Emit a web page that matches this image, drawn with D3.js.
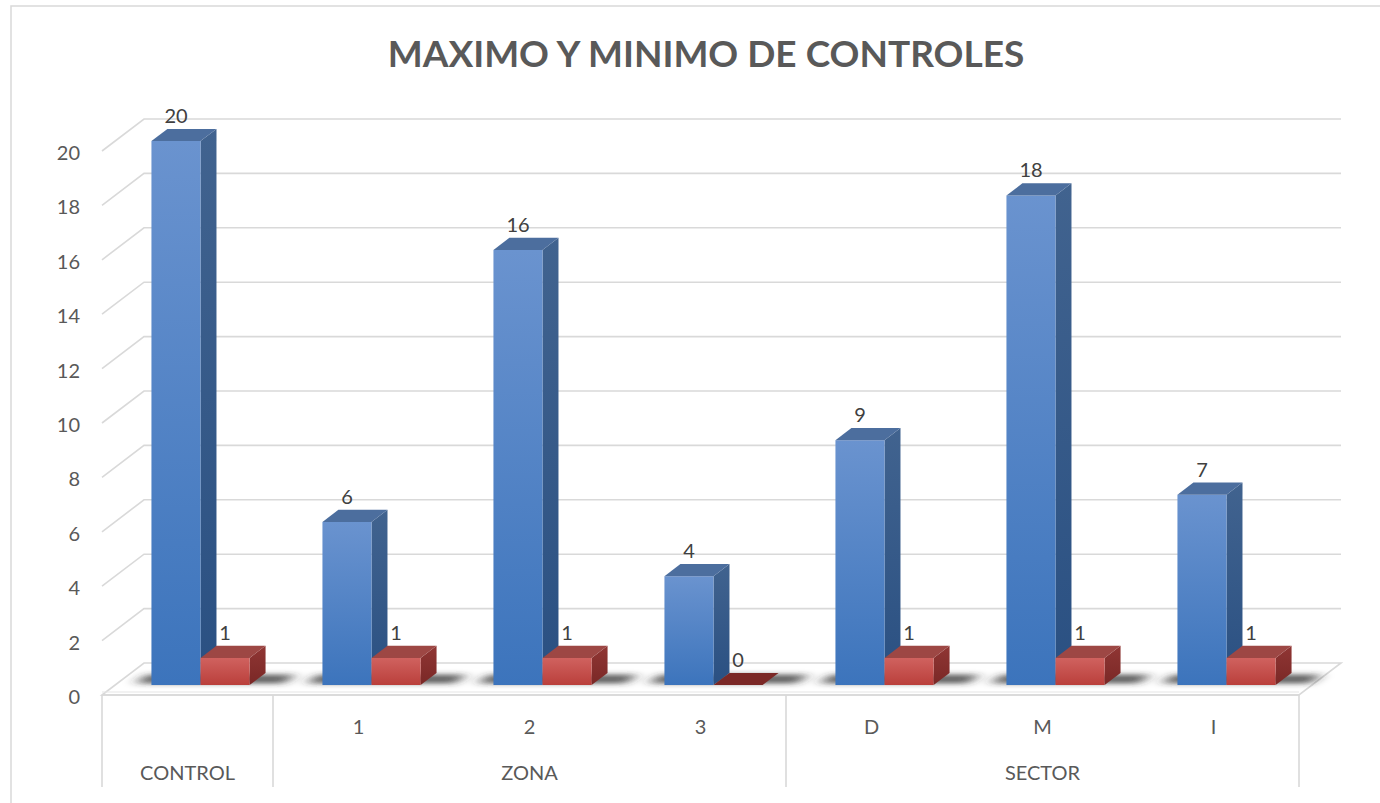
<!DOCTYPE html>
<html>
<head>
<meta charset="utf-8">
<script src="https://cdn.jsdelivr.net/npm/d3@7"></script>
<style>
  html, body { margin: 0; padding: 0; background: #ffffff; }
  svg { display: block; }
  text { font-family: Lato, "Open Sans", "Liberation Sans", sans-serif; }
</style>
</head>
<body>
<svg id="chart" width="1380" height="803"></svg>
<script>
// ---- data ----
const subLabels   = ["", "1", "2", "3", "D", "M", "I"];
const groupLabels = ["CONTROL", "ZONA", "ZONA", "ZONA", "SECTOR", "SECTOR", "SECTOR"];
const maxValues   = [20, 6, 16, 4, 9, 18, 7];
const minValues   = [1, 1, 1, 0, 1, 1, 1];
const yTicks      = [0, 2, 4, 6, 8, 10, 12, 14, 16, 18, 20];
const titleText   = "MAXIMO Y MINIMO DE CONTROLES";

// ---- layout ----
const W = 1380, H = 803;
const svg = d3.select("#chart");

const floorFront = 695;     // y of value 0 at the front edge of the floor
const DX = 42, DY = 32;     // screen offset from front (z=0) to back wall (z=1)
const zFront = 0.31, zBack = 0.69;

const y = d3.scaleLinear().domain([0, 20]).range([floorFront, floorFront - 544]);
const x = d3.scaleBand().domain(d3.range(subLabels.length)).range([102, 1299]).padding(0);
const barW = x.bandwidth() * 0.287;

const P = (px, v, z) => [px + DX * z, y(v) - DY * z];
const poly = pts => pts.map(p => p.join(",")).join(" ");

const defs = svg.append("defs");
function grad(id, c1, c2) {
  const g = defs.append("linearGradient").attr("id", id)
    .attr("x1", 0).attr("y1", 0).attr("x2", 0).attr("y2", 1);
  g.append("stop").attr("offset", "0%").attr("stop-color", c1);
  g.append("stop").attr("offset", "100%").attr("stop-color", c2);
}
grad("blueFront", "#6a93cf", "#3c74bc");
grad("blueSide", "#41638f", "#2a5082");
grad("redFront", "#d0625f", "#ba3f3b");
grad("redSide", "#903634", "#7a2826");
defs.append("filter").attr("id", "shadowBlur")
  .attr("x", "-50%").attr("y", "-200%").attr("width", "200%").attr("height", "500%")
  .append("feGaussianBlur").attr("stdDeviation", "7 2.5");

// chart frame
svg.append("rect").attr("x", 11).attr("y", 6).attr("width", W).attr("height", H)
  .attr("fill", "none").attr("stroke", "#d9d9d9").attr("stroke-width", 1.5);

// title
svg.append("text").attr("x", 706).attr("y", 67).attr("text-anchor", "middle")
  .attr("font-size", 37).attr("font-weight", 700).attr("fill", "#595959")
  .text(titleText);

// ---- walls & gridlines ----
const grid = svg.append("g").attr("stroke", "#d9d9d9").attr("stroke-width", 1.6).attr("fill", "none");
const xL = x.range()[0], xR = x.range()[1];
yTicks.filter(v => v > 0).forEach(v => {
  const a = P(xL, v, 0), b = P(xL, v, 1), c = P(xR, v, 1);
  grid.append("polyline").attr("points", poly([a, b, c]));
});

// floor
const floor = svg.append("g");
floor.append("polygon")
  .attr("points", poly([P(xL, 0, 0), P(xL, 0, 1), P(xR, 0, 1), P(xR, 0, 0)]))
  .attr("fill", "#ffffff").attr("stroke", "#d9d9d9").attr("stroke-width", 1.6);
floor.append("line")
  .attr("x1", xL).attr("x2", xR).attr("y1", floorFront - 3).attr("y2", floorFront - 3)
  .attr("stroke", "#e6e6e6").attr("stroke-width", 1.2);

// ---- y axis labels ----
const yAxis = d3.axisLeft(y).tickValues(yTicks).tickSize(0).tickPadding(0);
const yg = svg.append("g").attr("transform", "translate(80,2)").call(yAxis);
yg.select(".domain").remove();
yg.selectAll("text").attr("font-size", 20).attr("fill", "#595959")
  .attr("font-family", "Lato, 'Open Sans', sans-serif");

// ---- bars ----
const series = [
  { values: maxValues, front: "url(#blueFront)", side: "url(#blueSide)", top: "#4c6e9e", flat: "#3a5f8f" },
  { values: minValues, front: "url(#redFront)", side: "url(#redSide)", top: "#9d4744", flat: "#7b2826" }
];

const shadows = svg.append("g").attr("filter", "url(#shadowBlur)");
const bars = svg.append("g");
const labels = svg.append("g").attr("font-size", 20).attr("fill", "#404040").attr("text-anchor", "middle");

d3.range(subLabels.length).forEach(i => {
  const cx = x(i) + x.bandwidth() / 2;
  // soft contact shadow on the floor
  const s1 = P(cx - barW - 18, 0, zFront + 0.05), s2 = P(cx + barW + 32, 0, zFront + 0.05);
  const s3 = P(cx + barW + 32, 0, zBack - 0.05), s4 = P(cx - barW - 18, 0, zBack - 0.05);
  shadows.append("polygon").attr("points", poly([s1, s2, s3, s4]))
    .attr("fill", "#2b2b2b").attr("opacity", 0.75);

  series.forEach((s, k) => {
    const v = s.values[i];
    const xa = cx - barW + k * barW, xb = xa + barW;
    const g = bars.append("g");
    if (v > 0) {
      g.append("polygon").attr("points", poly([P(xb, 0, zFront), P(xb, 0, zBack), P(xb, v, zBack), P(xb, v, zFront)]))
        .attr("fill", s.side);
      g.append("polygon").attr("points", poly([P(xa, 0, zFront), P(xb, 0, zFront), P(xb, v, zFront), P(xa, v, zFront)]))
        .attr("fill", s.front);
      g.append("polygon").attr("points", poly([P(xa, v, zFront), P(xb, v, zFront), P(xb, v, zBack), P(xa, v, zBack)]))
        .attr("fill", s.top);
    } else {
      g.append("polygon").attr("points", poly([P(xa, v, zFront), P(xb, v, zFront), P(xb, v, zBack), P(xa, v, zBack)]))
        .attr("fill", s.flat);
    }
    const ft = P((xa + xb) / 2, v, zFront);
    labels.append("text").attr("x", ft[0]).attr("y", ft[1] - 18).text(v);
  });
});

// ---- category axis (two levels) ----
const cat = svg.append("g");
const tableTop = floorFront, tableBottom = 787;
const lineStyle = sel => sel.attr("stroke", "#d9d9d9").attr("stroke-width", 1.6);
lineStyle(cat.append("line").attr("x1", xL).attr("x2", xR).attr("y1", tableTop).attr("y2", tableTop));

// group spans
const groups = [];
groupLabels.forEach((g, i) => {
  const last = groups[groups.length - 1];
  if (last && last.name === g) last.end = i; else groups.push({ name: g, start: i, end: i });
});
groups.forEach(gr => {
  const x0 = x(gr.start), x1 = x(gr.end) + x.bandwidth();
  lineStyle(cat.append("line").attr("x1", x0).attr("x2", x0).attr("y1", tableTop).attr("y2", tableBottom));
  cat.append("text").attr("x", (x0 + x1) / 2).attr("y", 780).attr("text-anchor", "middle")
    .attr("font-size", 20).attr("fill", "#595959").text(gr.name);
});
lineStyle(cat.append("line").attr("x1", xR).attr("x2", xR).attr("y1", tableTop).attr("y2", tableBottom));

subLabels.forEach((lab, i) => {
  cat.append("text").attr("x", x(i) + x.bandwidth() / 2).attr("y", 734).attr("text-anchor", "middle")
    .attr("font-size", 20).attr("fill", "#595959").text(lab);
});
</script>
</body>
</html>
